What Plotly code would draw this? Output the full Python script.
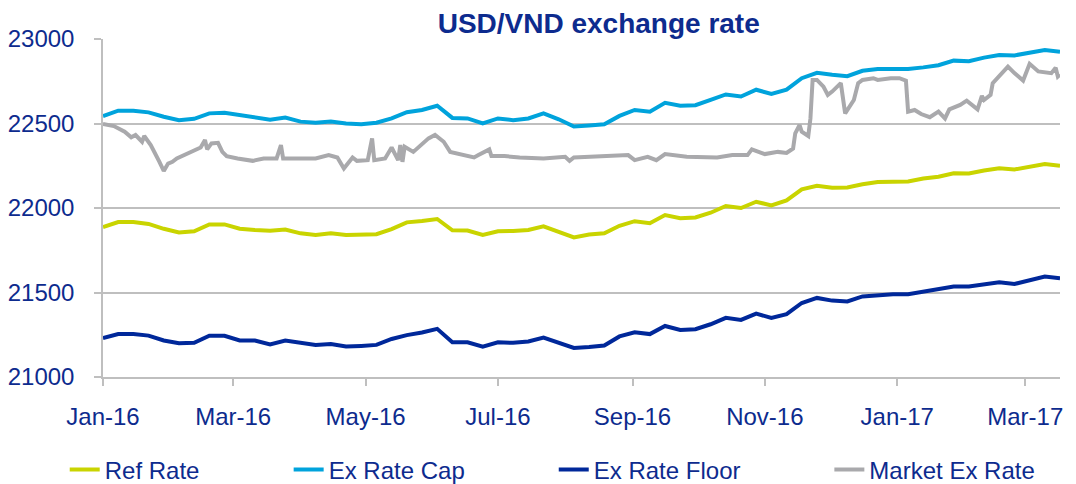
import pandas as pd
import plotly.graph_objects as go

# weekly readings (Fridays) for the band series
week_dates = pd.date_range("2016-01-01", periods=64, freq="7D")

ref_rate = [21887, 21917, 21917, 21906, 21877, 21855, 21862, 21903, 21903, 21877,
            21870, 21866, 21873, 21850, 21840, 21850, 21840, 21845, 21845, 21875,
            21915, 21923, 21935, 21868, 21867, 21840, 21862, 21864, 21870, 21891,
            21860, 21826, 21843, 21850, 21895, 21922, 21910, 21958, 21940, 21944,
            21972, 22012, 22000, 22037, 22015, 22045, 22110, 22132, 22120, 22122,
            22140, 22154, 22155, 22157, 22174, 22185, 22206, 22204, 22222, 22235,
            22228, 22245, 22260, 22250]

ex_rate_cap = [22544, 22576, 22576, 22566, 22540, 22520, 22528, 22560, 22564, 22550,
               22540, 22522, 22535, 22511, 22505, 22512, 22500, 22495, 22505, 22530,
               22567, 22580, 22605, 22533, 22530, 22500, 22530, 22520, 22530, 22560,
               22525, 22482, 22488, 22495, 22545, 22580, 22570, 22622, 22605, 22608,
               22640, 22672, 22660, 22700, 22675, 22700, 22768, 22800, 22788, 22780,
               22812, 22822, 22822, 22822, 22832, 22845, 22872, 22868, 22890, 22905,
               22903, 22918, 22935, 22925]

ex_rate_floor = [21230, 21254, 21254, 21245, 21216, 21200, 21202, 21244, 21244, 21216,
                 21216, 21192, 21216, 21200, 21190, 21195, 21180, 21184, 21190, 21225,
                 21248, 21263, 21285, 21206, 21205, 21180, 21205, 21202, 21210, 21233,
                 21205, 21172, 21178, 21186, 21240, 21265, 21254, 21302, 21278, 21283,
                 21312, 21350, 21338, 21375, 21350, 21372, 21438, 21468, 21452, 21447,
                 21477, 21485, 21489, 21490, 21505, 21518, 21535, 21535, 21550, 21560,
                 21550, 21570, 21594, 21585]

# market rate read at its turning points
market_dates = [
    "2016-01-01", "2016-01-06", "2016-01-11", "2016-01-14", "2016-01-16", "2016-01-19", "2016-01-20",
    "2016-01-23", "2016-01-27", "2016-01-29", "2016-01-31", "2016-02-02", "2016-02-04", "2016-02-10",
    "2016-02-15", "2016-02-17", "2016-02-18", "2016-02-20", "2016-02-23", "2016-02-25", "2016-02-27",
    "2016-03-03", "2016-03-10", "2016-03-15", "2016-03-21", "2016-03-23", "2016-03-24", "2016-03-30",
    "2016-04-08", "2016-04-14", "2016-04-18", "2016-04-21", "2016-04-25", "2016-04-27", "2016-05-02",
    "2016-05-04", "2016-05-05", "2016-05-10", "2016-05-13", "2016-05-16", "2016-05-17", "2016-05-18",
    "2016-05-19", "2016-05-23", "2016-05-27", "2016-05-30", "2016-06-02", "2016-06-06", "2016-06-09",
    "2016-06-14", "2016-06-20", "2016-06-22", "2016-06-27", "2016-06-28", "2016-07-04", "2016-07-11",
    "2016-07-22", "2016-08-01", "2016-08-03", "2016-08-05", "2016-08-17", "2016-08-30", "2016-09-02",
    "2016-09-08", "2016-09-12", "2016-09-16", "2016-09-26", "2016-10-10", "2016-10-17", "2016-10-24",
    "2016-10-26", "2016-11-01", "2016-11-07", "2016-11-11", "2016-11-14", "2016-11-15", "2016-11-17",
    "2016-11-18", "2016-11-21", "2016-11-22", "2016-11-23", "2016-11-25", "2016-11-28", "2016-11-30",
    "2016-12-02", "2016-12-06", "2016-12-08", "2016-12-12", "2016-12-14", "2016-12-16", "2016-12-21",
    "2016-12-23", "2016-12-29", "2017-01-02", "2017-01-05", "2017-01-06", "2017-01-09", "2017-01-12",
    "2017-01-16", "2017-01-20", "2017-01-23", "2017-01-25", "2017-01-30", "2017-02-02", "2017-02-07",
    "2017-02-09", "2017-02-10", "2017-02-13", "2017-02-14", "2017-02-17", "2017-02-21", "2017-02-24",
    "2017-02-28", "2017-03-03", "2017-03-07", "2017-03-13", "2017-03-15", "2017-03-16", "2017-03-17",
]
market_rate = [
    22497, 22485, 22451, 22418, 22432, 22392, 22426, 22372, 22273, 22219,
    22263, 22273, 22293, 22332, 22358, 22402, 22347, 22382, 22386, 22332,
    22307, 22293, 22279, 22293, 22293, 22372, 22293, 22293, 22293, 22313,
    22299, 22234, 22299, 22279, 22283, 22412, 22283, 22293, 22358, 22283,
    22372, 22273, 22362, 22332, 22382, 22412, 22432, 22392, 22332, 22319,
    22299, 22313, 22347, 22307, 22307, 22299, 22293, 22303, 22279, 22299,
    22303, 22313, 22283, 22303, 22283, 22319, 22303, 22299, 22313, 22313,
    22347, 22319, 22332, 22326, 22352, 22442, 22491, 22451, 22426, 22530,
    22758, 22758, 22718, 22669, 22689, 22739, 22560, 22639, 22739, 22758,
    22768, 22758, 22768, 22768, 22754, 22570, 22580, 22556, 22537, 22570,
    22530, 22584, 22610, 22635, 22584, 22663, 22639, 22669, 22739, 22778,
    22837, 22798, 22754, 22853, 22808, 22798, 22830, 22778, 22790,
]

tick_dates = ["2016-01-01", "2016-03-01", "2016-05-01", "2016-07-01",
              "2016-09-01", "2016-11-01", "2017-01-01", "2017-03-01"]
tick_labels = ["Jan-16", "Mar-16", "May-16", "Jul-16", "Sep-16", "Nov-16", "Jan-17", "Mar-17"]

TEXT = "#0D2B8E"
GRID = "#BFBFBF"
FONT = "Liberation Sans, Arial, sans-serif"

fig = go.Figure()

series = [
    ("Ref Rate", week_dates, ref_rate, "#C9D400", "legend"),
    ("Ex Rate Cap", week_dates, ex_rate_cap, "#00A3DC", "legend2"),
    ("Ex Rate Floor", week_dates, ex_rate_floor, "#00289A", "legend3"),
    ("Market Ex Rate", market_dates, market_rate, "#A9A9AC", "legend4"),
]
for name, x, y, color, leg in series:
    fig.add_trace(
        go.Scatter(
            x=x, y=y, name=name, mode="lines", legend=leg,
            line=dict(color=color, width=4),
        )
    )

# one legend box per entry so the spacing matches the original
legend_style = dict(
    orientation="h", yanchor="middle", y=-0.275, xanchor="left",
    font=dict(family=FONT, size=24, color=TEXT), bgcolor="rgba(0,0,0,0)",
)
fig.update_layout(
    legend=dict(x=-0.040, **legend_style),
    legend2=dict(x=0.194, **legend_style),
    legend3=dict(x=0.471, **legend_style),
    legend4=dict(x=0.759, **legend_style),
)

# the page adds an 8px body margin, so margins are offset to land the plot where the original has it
fig.update_layout(
    width=1076,
    height=484,
    margin=dict(l=95, r=24, t=31, b=115, autoexpand=False),
    paper_bgcolor="white",
    plot_bgcolor="white",
    font=dict(family=FONT, size=24, color=TEXT),
    title=dict(
        text="<b>USD/VND exchange rate</b>",
        font=dict(family=FONT, size=28, color=TEXT),
        x=0.518, xref="paper", xanchor="center",
        y=0.968, yref="container", yanchor="middle",
    ),
    showlegend=True,
    xaxis=dict(
        range=["2016-01-01", "2017-03-17"],
        tickvals=tick_dates,
        ticktext=tick_labels,
        showgrid=False,
        showline=True, linecolor=GRID, linewidth=1.5,
        ticks="outside", ticklen=7, tickcolor=GRID, tickwidth=1.5,
        ticklabelstandoff=10,
        zeroline=False, automargin=False,
    ),
    yaxis=dict(
        range=[21000, 23000],
        dtick=500,
        tickformat="d",
        showgrid=True, gridcolor=GRID, gridwidth=1.5,
        showline=True, linecolor=GRID, linewidth=1.5,
        ticks="outside", ticklen=7, tickcolor=GRID, tickwidth=1.5,
        ticklabelstandoff=15,
        zeroline=False, automargin=False,
    ),
)

fig.write_html("out.html")
